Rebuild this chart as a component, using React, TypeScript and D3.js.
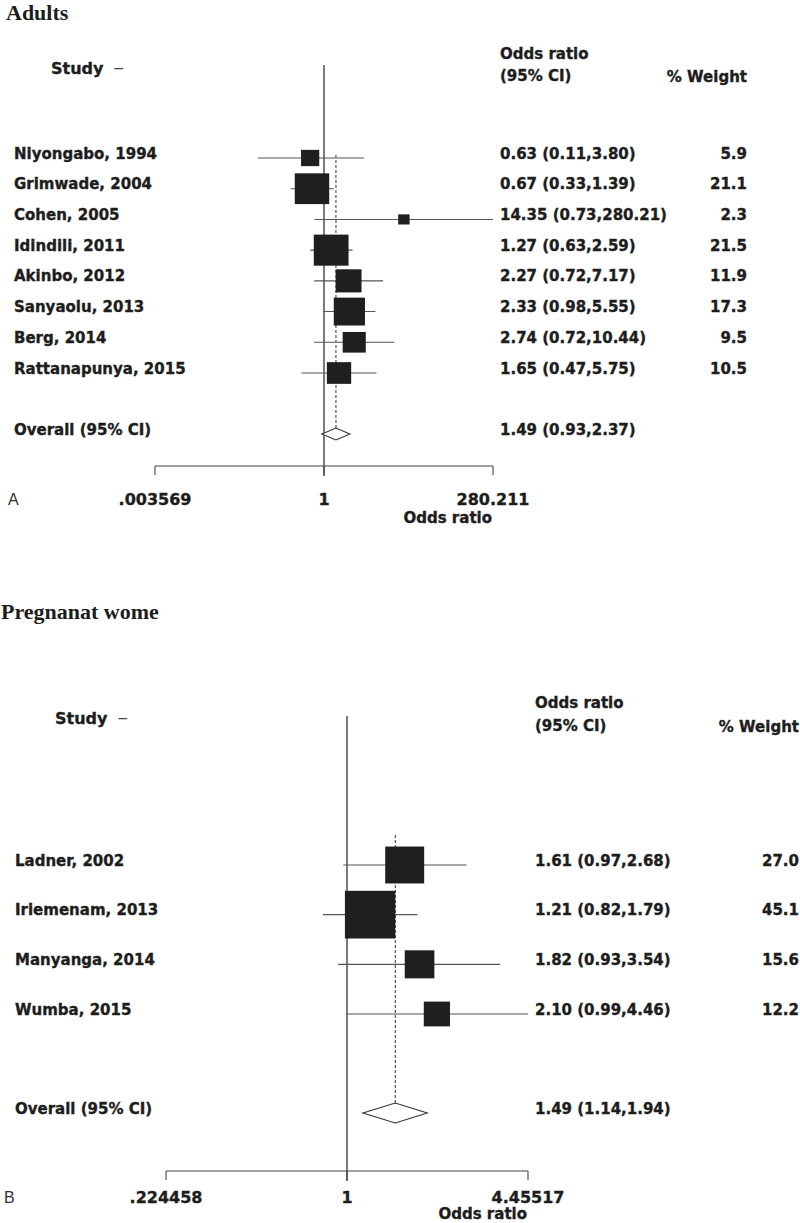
import React from "react";
import * as d3 from "d3";

// ---------- Data ----------
const studiesA = [
  "Niyongabo, 1994",
  "Grimwade, 2004",
  "Cohen, 2005",
  "Idindili, 2011",
  "Akinbo, 2012",
  "Sanyaolu, 2013",
  "Berg, 2014",
  "Rattanapunya, 2015",
];
const orA = [0.63, 0.67, 14.35, 1.27, 2.27, 2.33, 2.74, 1.65];
const loA = [0.11, 0.33, 0.73, 0.63, 0.72, 0.98, 0.72, 0.47];
const hiA = [3.8, 1.39, 280.21, 2.59, 7.17, 5.55, 10.44, 5.75];
const weightA = [5.9, 21.1, 2.3, 21.5, 11.9, 17.3, 9.5, 10.5];
const overallA = [1.49, 0.93, 2.37];
const ticksA = [0.003569, 1, 280.211];
const tickLabelsA = [".003569", "1", "280.211"];

const studiesB = ["Ladner, 2002", "Iriemenam, 2013", "Manyanga, 2014", "Wumba, 2015"];
const orB = [1.61, 1.21, 1.82, 2.1];
const loB = [0.97, 0.82, 0.93, 0.99];
const hiB = [2.68, 1.79, 3.54, 4.46];
const weightB = [27.0, 45.1, 15.6, 12.2];
const overallB = [1.49, 1.14, 1.94];
const ticksB = [0.224458, 1, 4.45517];
const tickLabelsB = [".224458", "1", "4.45517"];

const f2 = d3.format(".2f");
const f1 = d3.format(".1f");

const SANS = "'DejaVu Sans', sans-serif";
const SERIF = "'Liberation Serif', 'Times New Roman', serif";
const INK = "#1d1d1d";

type PanelProps = {
  title: string;
  titleX: number;
  titleY: number;
  letter: string;
  letterX: number;
  studies: string[];
  or: number[];
  lo: number[];
  hi: number[];
  weight: number[];
  overall: number[];
  ticks: number[];
  tickLabels: string[];
  xRange: [number, number];
  rowRange: [number, number];
  overallY: number;
  headerY: [number, number, number];
  refTop: number;
  axisY: number;
  labelY: number;
  axisTitleY: number;
  dashTop: number;
  nameX: number;
  studyHeaderX: number;
  orX: number;
  wRight: number;
  boxKx: number;
  boxKy: number;
  diamondH: number;
};

function Panel(p: PanelProps) {
  const x = d3.scaleLog().domain([p.ticks[0], p.ticks[2]]).range(p.xRange);
  const y = d3
    .scaleLinear()
    .domain([0, p.studies.length - 1])
    .range(p.rowRange);
  const x1 = x(1);
  const [oEst, oLo, oHi] = p.overall;
  const dY = p.overallY;
  const dh = p.diamondH / 2;
  const diamond = [
    [x(oLo), dY],
    [x(oEst), dY - dh],
    [x(oHi), dY],
    [x(oEst), dY + dh],
  ]
    .map((q) => q.join(","))
    .join(" ");
  const txt = {
    fontFamily: SANS,
    fontWeight: 700,
    fontSize: 15,
    fill: INK,
    stroke: INK,
    strokeWidth: 0.35,
  };
  return (
    <g>
      <text x={p.titleX} y={p.titleY} style={{ fontFamily: SERIF, fontWeight: 700, fontSize: 22, fill: INK }}>
        {p.title}
      </text>
      {/* headers */}
      <text x={p.studyHeaderX} y={p.headerY[2]} style={{ ...txt, fontSize: 16 }}>
        Study
      </text>
      <text x={p.studyHeaderX + 62} y={p.headerY[2] - 1} style={{ fontFamily: SANS, fontSize: 14, fill: "#444" }}>
        −
      </text>
      <text x={p.orX} y={p.headerY[0]} style={txt}>
        Odds ratio
      </text>
      <text x={p.orX} y={p.headerY[1]} style={txt}>
        (95% CI)
      </text>
      <text x={p.wRight} y={p.headerY[1] + 1} textAnchor="end" style={txt}>
        % Weight
      </text>

      {/* reference line at 1 */}
      <line x1={x1} x2={x1} y1={p.refTop} y2={p.axisY + 10} stroke="#333" strokeWidth={1.3} />
      {/* dashed overall line */}
      <line
        x1={x(oEst)}
        x2={x(oEst)}
        y1={p.dashTop}
        y2={dY - dh}
        stroke="#333"
        strokeWidth={1}
        strokeDasharray="3,2"
      />

      {/* studies */}
      {p.studies.map((s, i) => {
        const yy = y(i);
        const w = p.boxKx * Math.sqrt(p.weight[i]);
        const h = p.boxKy * Math.sqrt(p.weight[i]);
        return (
          <g key={s}>
            <line x1={x(p.lo[i])} x2={x(p.hi[i])} y1={yy} y2={yy} stroke="#555" strokeWidth={1.1} />
            <rect x={x(p.or[i]) - w / 2} y={yy - h / 2} width={w} height={h} fill="#1f1f1f" />
            <text x={p.nameX} y={yy + 0.5} style={txt}>
              {s}
            </text>
            <text x={p.orX} y={yy + 0.5} style={txt}>
              {`${f2(p.or[i])} (${f2(p.lo[i])},${f2(p.hi[i])})`}
            </text>
            <text x={p.wRight} y={yy + 0.5} textAnchor="end" style={txt}>
              {f1(p.weight[i])}
            </text>
          </g>
        );
      })}

      {/* overall */}
      <polygon points={diamond} fill="#fff" stroke="#333" strokeWidth={1.1} />
      <text x={p.nameX} y={dY + 0.5} style={txt}>
        Overall (95% CI)
      </text>
      <text x={p.orX} y={dY + 0.5} style={txt}>
        {`${f2(oEst)} (${f2(oLo)},${f2(oHi)})`}
      </text>

      {/* axis */}
      <line x1={x(p.ticks[0])} x2={x(p.ticks[2])} y1={p.axisY} y2={p.axisY} stroke="#444" strokeWidth={1.1} />
      {p.ticks.map((t, i) => (
        <g key={i}>
          <line x1={x(t)} x2={x(t)} y1={p.axisY} y2={p.axisY + 9} stroke="#444" strokeWidth={1.1} />
          <text x={x(t)} y={p.labelY} textAnchor="middle" style={{ ...txt, fontSize: 16 }}>
            {p.tickLabels[i]}
          </text>
        </g>
      ))}
      <text x={x(p.ticks[2]) - 1} y={p.axisTitleY} textAnchor="end" style={{ ...txt, fontSize: 15 }}>
        Odds ratio
      </text>
      <text x={p.letterX} y={p.labelY + 0.5} style={{ fontFamily: "'Liberation Sans', Arial, sans-serif", fontSize: 16, fill: "#333" }}>
        {p.letter}
      </text>
    </g>
  );
}

export default function App() {
  return (
    <svg
      width={800}
      height={1223}
      style={{ position: "absolute", left: 0, top: 0, background: "#fff" }}
    >
      <rect width={800} height={1223} fill="#fff" />
      <Panel
        title="Adults"
        titleX={6}
        titleY={20}
        letter="A"
        letterX={8}
        studies={studiesA}
        or={orA}
        lo={loA}
        hi={hiA}
        weight={weightA}
        overall={overallA}
        ticks={ticksA}
        tickLabels={tickLabelsA}
        xRange={[155, 493]}
        rowRange={[158, 373]}
        overallY={434}
        headerY={[58.5, 80.5, 73.5]}
        refTop={65}
        axisY={466}
        labelY={504.5}
        axisTitleY={522.5}
        dashTop={155}
        nameX={14}
        studyHeaderX={51}
        orX={500}
        wRight={747}
        boxKx={7.5}
        boxKy={6.7}
        diamondH={12}
      />
      <Panel
        title="Pregnanat wome"
        titleX={1}
        titleY={619}
        letter="B"
        letterX={4}
        studies={studiesB}
        or={orB}
        lo={loB}
        hi={hiB}
        weight={weightB}
        overall={overallB}
        ticks={ticksB}
        tickLabels={tickLabelsB}
        xRange={[166, 528]}
        rowRange={[865, 1014]}
        overallY={1113}
        headerY={[707.5, 730.5, 723.5]}
        refTop={716}
        axisY={1171}
        labelY={1202.5}
        axisTitleY={1219}
        dashTop={835}
        nameX={15}
        studyHeaderX={55}
        orX={535}
        wRight={799}
        boxKx={7.5}
        boxKy={7.1}
        diamondH={20}
      />
    </svg>
  );
}
